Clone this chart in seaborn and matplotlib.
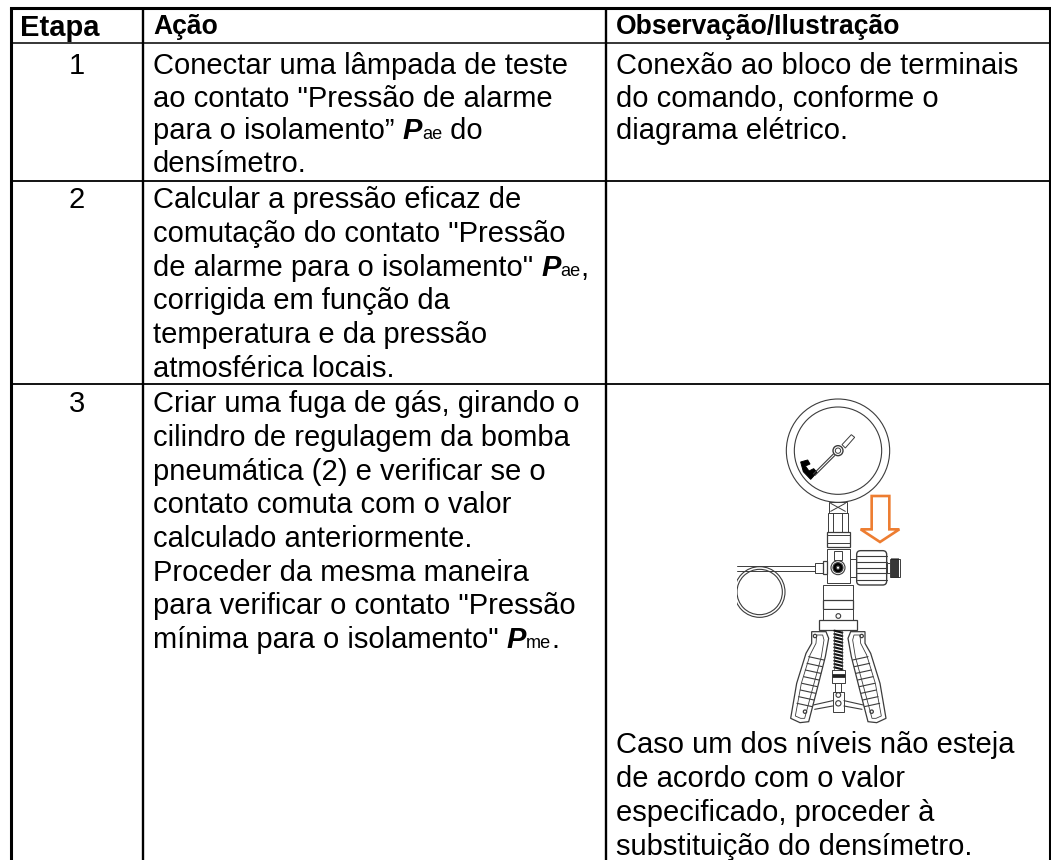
import numpy as np
import matplotlib
matplotlib.use('Agg')
import matplotlib.pyplot as plt
from matplotlib.patches import Circle, Rectangle, Polygon, FancyBboxPatch
import seaborn as sns

# table content
headers = ['Etapa', 'Ação', 'Observação/Ilustração']
steps = ['1', '2', '3']
# "|" splits a line into: plain text | bold italic P | subscript | plain text
action_1 = ['Conectar uma lâmpada de teste',
            'ao contato "Pressão de alarme',
            'para o isolamento” |P|ae| do',
            'densímetro.']
action_2 = ['Calcular a pressão eficaz de',
            'comutação do contato "Pressão',
            'de alarme para o isolamento" |P|ae|,',
            'corrigida em função da',
            'temperatura e da pressão',
            'atmosférica locais.']
action_3 = ['Criar uma fuga de gás, girando o',
            'cilindro de regulagem da bomba',
            'pneumática (2) e verificar se o',
            'contato comuta com o valor',
            'calculado anteriormente.',
            'Proceder da mesma maneira',
            'para verificar o contato "Pressão',
            'mínima para o isolamento" |P|me|.']
note_1 = ['Conexão ao bloco de terminais',
          'do comando, conforme o',
          'diagrama elétrico.']
note_3 = ['Caso um dos níveis não esteja',
          'de acordo com o valor',
          'especificado, proceder à',
          'substituição do densímetro.']

# grid layout, in pixels
col_edges = [10.5, 142.7, 605.7, 1049.7]
row_edges = [8.3, 43.3, 181, 384.3, 860]
row_baselines = [74, 208.3, 412.3]
note_3_baseline = 753
font_size = 21

sns.set_theme(style='white')
plt.rcParams['font.family'] = ['Liberation Sans', 'DejaVu Sans']

fig = plt.figure(figsize=(10.51, 8.6), dpi=100)
ax = fig.add_axes([0, 0, 1, 1])
ax.set_xlim(0, 1051)
ax.set_ylim(860, 0)
ax.axis('off')
sns.despine(ax=ax, left=True, bottom=True)


def draw_line(x, y, line):
    '''Draw one line of text, measuring each run to place the next one.'''
    parts = line.split('|')
    renderer = fig.canvas.get_renderer()
    for i, part in enumerate(parts):
        if part == '':
            continue
        style = {'fontsize': font_size, 'color': 'black'}
        if i % 4 == 1:
            style.update(fontweight='bold', fontstyle='italic')
        if i % 4 == 2:
            style.update(fontsize=font_size * 0.62)
        txt = ax.text(x, y, part, va='baseline', ha='left', **style)
        x += txt.get_window_extent(renderer).width


def draw_block(x, y, lines, spacing=33.7):
    for n, line in enumerate(lines):
        draw_line(x, y + n * spacing, line)


# borders
ax.plot([col_edges[0], col_edges[0]], [row_edges[0], 860], color='black', lw=2.2, solid_capstyle='butt')
ax.plot([col_edges[3], col_edges[3]], [row_edges[0], 860], color='black', lw=2.2, solid_capstyle='butt')
ax.plot([col_edges[1], col_edges[1]], [row_edges[0], 860], color='black', lw=1.7, solid_capstyle='butt')
ax.plot([col_edges[2], col_edges[2]], [row_edges[0], 860], color='black', lw=1.7, solid_capstyle='butt')
ax.plot([col_edges[0], col_edges[3]], [row_edges[0], row_edges[0]], color='black', lw=2.2, solid_capstyle='projecting')
ax.plot([col_edges[0], col_edges[3]], [row_edges[1], row_edges[1]], color='black', lw=1.1)
ax.plot([col_edges[0], col_edges[3]], [row_edges[2], row_edges[2]], color='black', lw=1.3)
ax.plot([col_edges[0], col_edges[3]], [row_edges[3], row_edges[3]], color='black', lw=1.3)

# header row, the first column is set a little larger in the source
header_x = [20, 153, 616]
header_y = [36, 34.5, 34.5]
header_size = [21, 19.1, 19.1]
for x, y, size, label in zip(header_x, header_y, header_size, headers):
    ax.text(x, y, label, fontsize=size, fontweight='bold', va='baseline', ha='left', color='black')

# body
for step, base in zip(steps, row_baselines):
    ax.text(76.7, base, step, fontsize=font_size, va='baseline', ha='center', color='black')
draw_block(153, row_baselines[0], action_1, spacing=32.6)
draw_block(153, row_baselines[1], action_2)
draw_block(153, row_baselines[2], action_3)
draw_block(616, row_baselines[0], note_1, spacing=32.6)
draw_block(616, note_3_baseline, note_3, spacing=34)

# pump illustration, sketched in a local 3x grid with origin at (640, 390)
ORANGE = '#ED7D31'
INK = '#3c3c3c'


def p(x, y):
    return 640 + x / 3, 390 + y / 3


def seg(pts, lw=0.7, color=INK):
    xy = np.array([p(a, b) for a, b in pts])
    ax.plot(xy[:, 0], xy[:, 1], color=color, lw=lw, solid_capstyle='round')


def box(x0, y0, x1, y1, lw=0.7, fill='white'):
    a, b = p(x0, y0)
    ax.add_patch(Rectangle((a, b), (x1 - x0) / 3, (y1 - y0) / 3, fc=fill, ec=INK, lw=lw))


def ring(x, y, r, lw=0.8, fill='none', ec=INK):
    ax.add_patch(Circle(p(x, y), r / 3, fc=fill, ec=ec, lw=lw))


def poly(pts, fill='white', ec=INK, lw=0.7):
    ax.add_patch(Polygon([p(a, b) for a, b in pts], closed=True, fc=fill, ec=ec, lw=lw))


# gauge
ring(594, 182, 155)
ring(594, 182, 131)
poly([(482, 216), (503, 210), (510, 222), (496, 228), (507, 243), (521, 236), (531, 247), (512, 268), (490, 245)],
     fill='black', ec='black')
seg([(520, 252), (580, 192)], lw=0.8)
seg([(525, 256), (584, 197)], lw=0.8)
poly([(606, 164), (634, 134), (644, 142), (616, 174)])
ring(594, 182, 15, lw=1.0, fill='white')
ring(594, 182, 8, lw=0.7)

# stem
box(567, 335, 621, 368)
seg([(572, 340), (616, 364)])
seg([(616, 340), (572, 364)])
box(565, 368, 625, 425)
seg([(580, 368), (580, 425)])
seg([(606, 368), (606, 425)])
box(562, 425, 630, 470, lw=0.9)
seg([(562, 436), (630, 436)])
seg([(562, 460), (630, 460)])

# valve body
box(560, 478, 630, 578)
box(582, 482, 607, 510)
ring(594, 533, 21, fill='white')
ring(594, 533, 15, fill='black')
ring(594, 533, 5, fill='white')

# hose and coil
coil_clip = Rectangle(p(292, 520), 150 / 3, 180 / 3, transform=ax.transData)
for r in (76, 68):
    c = Circle(p(359, 606), r / 3, fc='none', ec=INK, lw=0.8)
    ax.add_patch(c)
    c.set_clip_path(coil_clip)
seg([(292, 528), (526, 528)])
seg([(292, 542), (526, 542)])
box(526, 520, 548, 548)
box(548, 514, 562, 552, lw=0.9)

# knob with arrow
box(630, 506, 648, 562)
ax.add_patch(FancyBboxPatch(p(650, 482), 90 / 3, 103 / 3, boxstyle='round,pad=0,rounding_size=4',
                            fc='white', ec=INK, lw=1.0))
for k in (498, 515, 533, 550, 570):
    seg([(650, k), (740, k)], lw=0.8)
box(742, 518, 750, 548)
box(750, 506, 780, 560)
for k in (756, 762, 768, 774):
    seg([(k, 506), (k, 560)], lw=1.3, color='#222222')
poly([(695, 318), (748, 318), (748, 418), (778, 418), (720, 456), (662, 418), (695, 418)],
     fill='white', ec=ORANGE, lw=1.9)

# cylinder
box(548, 585, 640, 630)
box(548, 630, 640, 658, lw=0.9)
box(548, 658, 640, 690)
ring(595, 678, 7)
box(538, 690, 650, 720, lw=0.9)

# spring
spring_y = np.arange(722, 840, 10)
for k, sy in enumerate(spring_y):
    seg([(583, sy), (607, sy + 6)], lw=1.5, color='#111111')
seg([(583, 722), (583, 840)], lw=0.5)
seg([(607, 722), (607, 840)], lw=0.5)
box(575, 840, 615, 878)
box(575, 852, 615, 862, fill='#222222')
box(586, 878, 604, 906)
box(578, 906, 612, 965)
ring(595, 915, 7)
ring(595, 940, 8)

# handles, drawn left then mirrored
handle = [(515, 725), (558, 725), (566, 745), (556, 800), (532, 895), (506, 995), (480, 998), (452, 985),
          (470, 880), (498, 790), (515, 760)]
for mirror in (False, True):
    fx = (lambda v: 1190 - v) if mirror else (lambda v: v)
    poly([(fx(a), b) for a, b in handle], lw=0.9)
    poly([(fx(a), b) for a, b in [(530, 735), (548, 735), (552, 750), (544, 800), (518, 895), (494, 985), (482, 985),
                                  (466, 978), (484, 880), (510, 795), (528, 760)]], lw=0.6)
    for k in range(8):
        yy = 800 + k * 20
        seg([(fx(506 - k * 5), yy), (fx(552 - k * 5), yy + 10)], lw=0.8)
    ring(fx(525), 738, 5, lw=0.9)
    ring(fx(495), 965, 5, lw=0.9)
    seg([(fx(520), 945), (fx(578), 932)], lw=0.8)
    seg([(fx(524), 958), (fx(578), 948)], lw=0.8)

fig.savefig('out.png', dpi=100, facecolor='white')
